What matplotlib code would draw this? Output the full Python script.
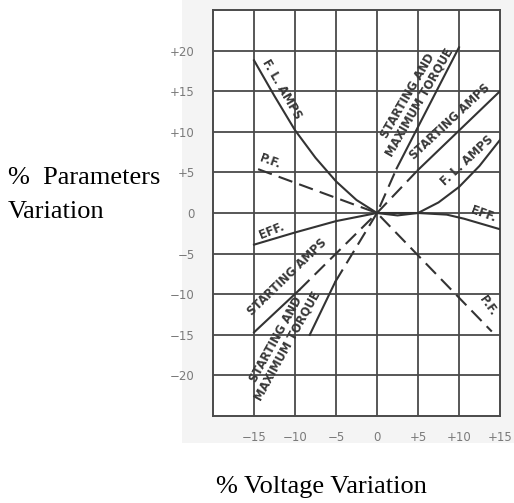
import matplotlib
matplotlib.use("Agg")
import matplotlib.pyplot as plt
from matplotlib.patches import Rectangle

# ---- data ----
x_ticks = [-15, -10, -5, 0, 5, 10, 15]
x_tick_labels = ["−15", "−10", "−5", "0", "+5", "+10", "+15"]
y_ticks = [-20, -15, -10, -5, 0, 5, 10, 15, 20]
y_tick_labels = ["−20", "−15", "−10", "−5", "0", "+5", "+10", "+15", "+20"]

fl_amps_x = [-15, -12.5, -10, -7.5, -5, -2.5, 0, 2.5, 5, 7.5, 10, 12.5, 15]
fl_amps_y = [18.8, 14.4, 10.2, 6.8, 3.9, 1.6, 0, -0.3, 0.0, 1.3, 3.2, 5.8, 9.0]

pf_x = [-14.5, 0, 14]
pf_y = [5.4, 0, -14.6]

eff_x = [-15, -10, -5, 0, 5, 8.5, 10.6, 15]
eff_y = [-3.9, -2.4, -1.0, 0, 0.0, -0.2, -0.7, -2.0]

start_amps_x = [-15, -9.5, 0, 5, 15]
start_amps_y = [-14.7, -9.5, 0, 5.3, 15]

torque_x = [-8.2, -5.1, 0, 2.4, 10]
torque_y = [-15.0, -8.5, 0, 5.5, 20.4]

# ---- figure ----
fig = plt.figure(figsize=(5.14, 5.03), dpi=100)
fig.patch.set_facecolor("white")
# scanned page background
fig.patches.append(Rectangle((182 / 514, 1 - 443 / 503), 1 - 182 / 514, 443 / 503,
                             transform=fig.transFigure, facecolor="#f4f4f4",
                             edgecolor="none", zorder=-5))

ax = fig.add_axes([213 / 514, 1 - 416 / 503, (500 - 213) / 514, (416 - 10) / 503])
ax.set_zorder(1)
ax.set_facecolor("white")
ax.set_xlim(-20, 15)
ax.set_ylim(-25, 25)

gc = "#4a4a4a"
for v in range(-15, 15, 5):
    ax.axvline(v, color=gc, lw=1.3, zorder=1)
for v in range(-20, 25, 5):
    ax.axhline(v, color=gc, lw=1.3, zorder=1)
for s in ax.spines.values():
    s.set_color(gc)
    s.set_linewidth(1.4)

ax.set_xticks(x_ticks)
ax.set_xticklabels(x_tick_labels)
ax.set_yticks(y_ticks)
ax.set_yticklabels(y_tick_labels)
ax.tick_params(length=0, labelsize=8.5, labelcolor="#7a7a7a")
ax.tick_params(axis="x", pad=11)
ax.tick_params(axis="y", pad=13)

lc = "#333333"
lw = 1.5
dash = (7, 3.5)
# F.L. AMPS
ax.plot(fl_amps_x, fl_amps_y, color=lc, lw=lw, zorder=3)
# P.F.
ax.plot(pf_x, pf_y, color=lc, lw=lw, dashes=dash, zorder=3)
# EFF.
ax.plot(eff_x, eff_y, color=lc, lw=lw, zorder=3)
# STARTING AMPS: solid under labels, dashed near origin
ax.plot(start_amps_x[0:2], start_amps_y[0:2], color=lc, lw=lw, zorder=3)
ax.plot(start_amps_x[1:4], start_amps_y[1:4], color=lc, lw=lw, dashes=dash, zorder=3)
ax.plot(start_amps_x[3:5], start_amps_y[3:5], color=lc, lw=lw, zorder=3)
# STARTING AND MAXIMUM TORQUE
ax.plot(torque_x[0:2], torque_y[0:2], color=lc, lw=lw, zorder=3)
ax.plot(torque_x[1:4], torque_y[1:4], color=lc, lw=lw, dashes=dash, zorder=3)
ax.plot(torque_x[3:5], torque_y[3:5], color=lc, lw=lw, zorder=3)

# labels on curves
tk = dict(color="#383838", fontsize=8.3, fontweight="semibold", family="DejaVu Sans",
          ha="center", va="center", rotation_mode="anchor", zorder=4)
ax.text(-11.6, 15.2, "F. L. AMPS", rotation=-60, **tk)
ax.text(-13.1, 6.4, "P.F.", rotation=-20, **tk)
ax.text(-12.8, -2.2, "EFF.", rotation=22, **tk)
ax.text(-10.9, -7.9, "STARTING AMPS", rotation=44, **tk)
ax.text(-11.6, -16.0, "STARTING AND\nMAXIMUM TORQUE", rotation=61, linespacing=1.05, **tk)
ax.text(4.5, 14.0, "STARTING AND\nMAXIMUM TORQUE", rotation=60, linespacing=1.05, **tk)
ax.text(8.9, 11.2, "STARTING AMPS", rotation=43, **tk)
ax.text(11.0, 6.5, "F. L. AMPS", rotation=43, **tk)
ax.text(13.0, -0.2, "EFF.", rotation=-20, **tk)
ax.text(13.5, -11.4, "P.F.", rotation=-55, **tk)

# outer titles
fig.text(8 / 514, 1 - 178 / 503, "%  Parameters", family="Liberation Serif",
         fontsize=19, ha="left", va="center")
fig.text(8 / 514, 1 - 212 / 503, "Variation", family="Liberation Serif",
         fontsize=19, ha="left", va="center")
fig.text(321 / 514, 1 - 487 / 503, "% Voltage Variation", family="Liberation Serif",
         fontsize=19, ha="center", va="center")

fig.savefig("out.png", dpi=100, facecolor=fig.get_facecolor())
